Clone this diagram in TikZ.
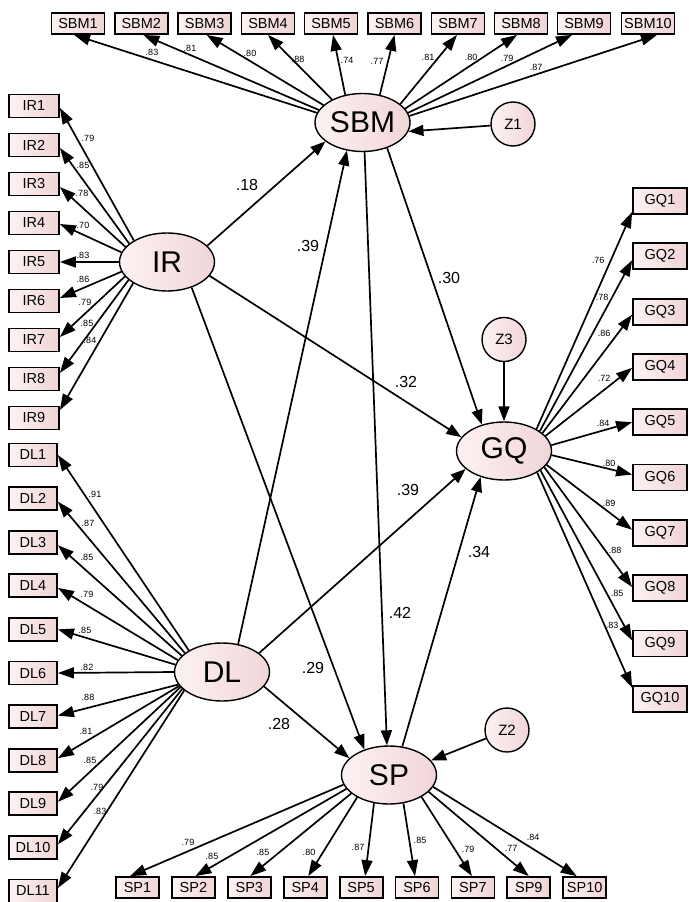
\documentclass[tikz,border=0pt]{standalone}
\usepackage{fontspec}
\setmainfont{Liberation Sans}
\usetikzlibrary{shapes.geometric,arrows.meta}
\definecolor{boxL}{RGB}{252,243,243}
\definecolor{boxR}{RGB}{240,212,214}
\definecolor{latL}{RGB}{252,242,242}
\definecolor{latR}{RGB}{241,213,216}
\tikzset{
  ind/.style={draw, line width=1.8pt, inner sep=0pt, minimum height=21pt,
    left color=boxL, right color=boxR, font=\fontsize{14.5}{16}\selectfont},
  lat/.style={ellipse, draw, line width=1.4pt, inner sep=0pt,
    minimum width=95pt, minimum height=58pt,
    left color=latL, right color=latR, font=\fontsize{30}{32}\selectfont},
  err/.style={circle, draw, line width=1.4pt, inner sep=0pt, minimum size=44pt,
    left color=latL, right color=latR, font=\fontsize{15}{16}\selectfont},
  arr/.style={-{Triangle[length=16pt,width=11pt]}, line width=1.7pt},
  sarr/.style={-{Triangle[length=15pt,width=11pt]}, line width=1.7pt},
  ld/.style={font=\fontsize{9}{10}\selectfont, inner sep=0pt},
  pl/.style={font=\fontsize{16}{18}\selectfont, inner sep=0pt}
}
\begin{document}
\begin{tikzpicture}[x=1pt,y=-1pt]
\useasboundingbox (0,0) rectangle (688,902);

% latent variables
\node[lat] (SBM) at (362.5,122.5) {SBM};
\node[lat] (IR) at (167,262) {IR};
\node[lat] (DL) at (222,672) {DL};
\node[lat] (GQ) at (504,451) {GQ};
\node[lat] (SP) at (389,775) {SP};
\node[err] (Z1) at (513,124) {Z1};
\node[err] (Z2) at (507,730) {Z2};
\node[err] (Z3) at (504,339.5) {Z3};

% SBM indicators
\foreach \i/\x in {1/78,2/141.3,3/204.6,4/268,5/331,6/394.5,7/458,8/521,9/584,10/648}
  \node[ind, minimum width=53pt] (SBM\i) at (\x,23.5) {SBM\i};
\foreach \i/\a/\s in {1/168/-4,2/164/2,3/156/2,4/143/0,5/122/2,6/58/0,7/26/-1,8/18/-4,9/12/-12,10/8/9}
  \draw[arr] (SBM.\a) -- ([xshift=\s pt]SBM\i.south);
\foreach \x/\y/\t [count=\i] in {152/52/.83,190/48/.81,250/53/.80,298/59/.88,347/60/.74,377/61/.77,428/57/.81,471/57/.80,507/58/.79,536/67/.87}
  \node[ld] (lSBM\i) at (\x,\y) {\t};

% IR indicators
\foreach \i/\y in {1/106,2/145,3/184,4/223,5/262,6/301,7/340,8/379,9/418}
  \node[ind, minimum width=50pt, minimum height=23pt] (IR\i) at (34,\y) {IR\i};
\foreach \i/\a/\s in {1/147/-2,2/154/-3,3/160/-3,4/168/-1,5/180/0,6/192/3,7/199/3,8/205/6,9/212/8}
  \draw[arr] (IR.\a) -- ([yshift=\s pt]IR\i.east);
\foreach \x/\y/\t [count=\i] in {88/138/.79,83/165/.85,82/193/.78,83/225/.70,83/255/.83,83/279/.86,85/302/.79,87/323/.85,90/340/.84}
  \node[ld] (lIR\i) at (\x,\y) {\t};

% DL indicators
\foreach \i/\y in {1/455,2/498.6,3/542.2,4/585.8,5/629.4,6/673,7/716.6,8/760.2,9/803.8,10/847.4,11/891}
  \node[ind, minimum width=48pt, minimum height=23pt] (DL\i) at (33,\y) {DL\i};
\foreach \i/\a/\s in {1/147/0,2/153/-3,3/158/-3,4/165/-2,5/171/0,6/180/0,7/196/1,8/198/2,9/200/2,10/203/3,11/206/3}
  \draw[arr] (DL.\a) -- ([yshift=\s pt]DL\i.east);
\foreach \x/\y/\t [count=\i] in {95/494/.91,88/523/.87,87/557/.85,87/594/.79,85/630/.85,87/667/.82,88/697/.88,86/731/.81,90/760/.85,97/787/.79,100/811/.83}
  \node[ld] (lDL\i) at (\x,\y) {\t};

% GQ indicators
\foreach \i/\y in {1/201,2/256.3,3/311.6,4/366.9,5/422.2,6/477.5,7/532.8,8/588.1,9/643.4,10/698.7}
  \node[ind, minimum width=54pt, minimum height=26pt] (GQ\i) at (660,\y) {GQ\i};
\foreach \i/\a/\s in {1/34/-11,2/29/-4,3/25/-3,4/20/-1,5/7/0,6/-5/3,7/-18/3,8/-22/1,9/-28/3,10/-33/11}
  \draw[arr] (GQ.\a) -- ([yshift=\s pt]GQ\i.west);
\foreach \x/\y/\t [count=\i] in {598/260/.76,602/297/.78,604/333/.86,604/378/.72,603/423/.84,609/463/.80,609/503/.89,615/550/.88,617/593/.85,612/625/.83}
  \node[ld] (lGQ\i) at (\x,\y) {\t};

% SP indicators
\foreach \i/\x in {1/137.5,2/193.4,3/249.3,4/305.2,5/361.1,6/417,7/472.9,9/528.8,10/584.7}
  \node[ind, minimum width=43pt] (SP\i) at (\x,887.5) {SP\i};
\foreach \i/\a/\s in {1/192/-7.5,2/198/2,3/206/1,4/215/3,5/242/4,6/297/-2,7/326/-1,9/337/0,10/345/-8}
  \draw[arr] (SP.\a) -- ([xshift=\s pt]SP\i.north);
\foreach \x/\y/\t [count=\i] in {188/842/.79,212/856/.85,263/852/.85,309/852/.80,358/847/.87,420/840/.85,468/849/.79,511/848/.77,533/837/.84}
  \node[ld] (lSP\i) at (\x,\y) {\t};

% structural paths
\draw[sarr] (IR.22) -- (SBM.-153);
\draw[sarr] (DL.60) -- (SBM.-119);
\draw[sarr] (SBM.-46) -- (GQ.130);
\draw[sarr] (IR.-18) -- (GQ.162);
\draw[sarr] (SBM.-86) -- (SP.94);
\draw[sarr] (IR.-46) -- (SP.134);
\draw[sarr] (DL.27) -- (GQ.-155);
\draw[sarr] (SP.65) -- (GQ.-132);
\draw[sarr] (DL.-19) -- (SP.157);
\draw[sarr] (Z1) -- (SBM.-11);
\draw[sarr] (Z2) -- (SP.19);
\draw[sarr] (Z3) -- (GQ.90);

% path coefficients
\node[pl] (p1) at (247,185) {.18};
\node[pl] (p2) at (308,246) {.39};
\node[pl] (p3) at (449,278) {.30};
\node[pl] (p4) at (406,382) {.32};
\node[pl] (p5) at (408,490) {.39};
\node[pl] (p6) at (479,552) {.34};
\node[pl] (p7) at (400,613) {.42};
\node[pl] (p8) at (313,668) {.29};
\node[pl] (p9) at (279,724) {.28};
\end{tikzpicture}
\end{document}
